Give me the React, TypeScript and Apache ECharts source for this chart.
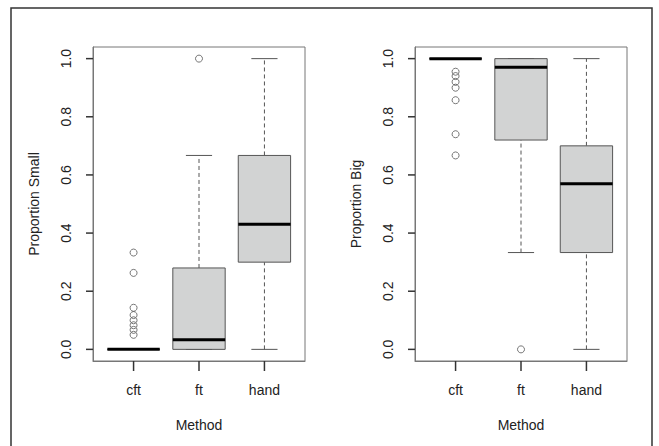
import React, { useEffect, useRef } from "react";
import * as echarts from "echarts";

const categories = ["cft", "ft", "hand"];
const yTicks = [0, 0.2, 0.4, 0.6, 0.8, 1.0];
const xTicks = [1, 2, 3];

// Proportion Small panel (per category: cft, ft, hand)
const smallLowerWhisker = [0, 0, 0];
const smallQ1 = [0, 0, 0.3];
const smallMedian = [0, 0.033, 0.43];
const smallQ3 = [0, 0.28, 0.667];
const smallUpperWhisker = [0, 0.667, 1.0];
const smallOutliersCft = [0.333, 0.263, 0.143, 0.118, 0.1, 0.083, 0.067, 0.05];
const smallOutliersFt = [1.0];
const smallOutliersHand: number[] = [];

// Proportion Big panel
const bigLowerWhisker = [1.0, 0.333, 0];
const bigQ1 = [1.0, 0.72, 0.333];
const bigMedian = [1.0, 0.97, 0.57];
const bigQ3 = [1.0, 1.0, 0.7];
const bigUpperWhisker = [1.0, 1.0, 1.0];
const bigOutliersCft = [0.955, 0.94, 0.92, 0.9, 0.857, 0.74, 0.667];
const bigOutliersFt = [0];
const bigOutliersHand: number[] = [];

const X_MIN = 0.38;
const X_MAX = 3.62;
const Y_MIN = -0.04;
const Y_MAX = 1.04;

const TEXT = "#222";
const BOXLINE = "#555";
const FRAME = "#777";
const TICK = "#333";
const FONT = "Liberation Sans, Arial, sans-serif";

function boxRows(lo: number[], q1: number[], med: number[], q3: number[], hi: number[]) {
  return categories.map((_, i) => [i + 1, lo[i], q1[i], med[i], q3[i], hi[i]]);
}

function outlierRows(lists: number[][]) {
  const rows: number[][] = [];
  lists.forEach((list, i) => list.forEach((v) => rows.push([i + 1, v])));
  return rows;
}

const renderBox = (params: any, api: any) => {
  const x = api.value(0);
  const loP = api.coord([x, api.value(1)]);
  const q1P = api.coord([x, api.value(2)]);
  const medP = api.coord([x, api.value(3)]);
  const q3P = api.coord([x, api.value(4)]);
  const hiP = api.coord([x, api.value(5)]);
  const cx = loP[0];
  const half = api.size([0.8, 0])[0] / 2;
  const capHalf = half / 2;
  const dashed = { stroke: BOXLINE, lineWidth: 1, lineDash: [4, 3], fill: null };
  const solid = { stroke: BOXLINE, lineWidth: 1, fill: null };
  return {
    type: "group",
    children: [
      { type: "line", shape: { x1: cx, y1: loP[1], x2: cx, y2: q1P[1] }, style: dashed },
      { type: "line", shape: { x1: cx, y1: q3P[1], x2: cx, y2: hiP[1] }, style: dashed },
      { type: "line", shape: { x1: cx - capHalf, y1: loP[1], x2: cx + capHalf, y2: loP[1] }, style: solid },
      { type: "line", shape: { x1: cx - capHalf, y1: hiP[1], x2: cx + capHalf, y2: hiP[1] }, style: solid },
      {
        type: "rect",
        shape: { x: cx - half, y: q3P[1], width: half * 2, height: q1P[1] - q3P[1] },
        style: { fill: "#d2d3d3", stroke: BOXLINE, lineWidth: 1 },
      },
      {
        type: "line",
        shape: { x1: cx - half, y1: medP[1], x2: cx + half, y2: medP[1] },
        style: { stroke: "#000", lineWidth: 3, fill: null },
      },
    ],
  };
};

// tick marks drawn through the axes' scales (outside the plot frame)
const renderXTick = (params: any, api: any) => {
  const p = api.coord([api.value(0), Y_MIN]);
  return {
    type: "line",
    shape: { x1: p[0], y1: p[1], x2: p[0], y2: p[1] + 10 },
    style: { stroke: TICK, lineWidth: 1.5 },
  };
};
const renderYTick = (params: any, api: any) => {
  const p = api.coord([X_MIN, api.value(1)]);
  return {
    type: "line",
    shape: { x1: p[0] - 7, y1: p[1], x2: p[0], y2: p[1] },
    style: { stroke: TICK, lineWidth: 1.5 },
  };
};

function makeX(gridIndex: number) {
  return {
    type: "value",
    gridIndex,
    min: X_MIN,
    max: X_MAX,
    axisLine: { show: true, onZero: false, lineStyle: { color: FRAME, width: 1 } },
    splitLine: { show: false },
    axisTick: { show: false },
    axisLabel: {
      customValues: xTicks,
      formatter: (v: number) => categories[Math.round(v) - 1] ?? "",
      color: TEXT,
      fontSize: 14,
      fontFamily: FONT,
      margin: 22,
    },
    name: "Method",
    nameLocation: "middle",
    nameGap: 57,
    nameTextStyle: { color: TEXT, fontSize: 14, fontFamily: FONT },
  };
}

function makeY(gridIndex: number, name: string) {
  return {
    type: "value",
    gridIndex,
    min: Y_MIN,
    max: Y_MAX,
    axisLine: { show: true, onZero: false, lineStyle: { color: FRAME, width: 1 } },
    splitLine: { show: false },
    axisTick: { show: false },
    axisLabel: {
      customValues: yTicks,
      formatter: (v: number) => v.toFixed(1),
      rotate: 90,
      color: TEXT,
      fontSize: 14,
      fontFamily: FONT,
      margin: 20,
    },
    name,
    nameLocation: "middle",
    nameGap: 52,
    nameTextStyle: { color: TEXT, fontSize: 14, fontFamily: FONT },
  };
}

function tickSeries(gridIndex: number) {
  return [
    {
      type: "custom",
      xAxisIndex: gridIndex,
      yAxisIndex: gridIndex,
      renderItem: renderXTick,
      clip: false,
      silent: true,
      encode: { x: 0, y: 1 },
      data: xTicks.map((v) => [v, Y_MIN]),
      z: 10,
    },
    {
      type: "custom",
      xAxisIndex: gridIndex,
      yAxisIndex: gridIndex,
      renderItem: renderYTick,
      clip: false,
      silent: true,
      encode: { x: 0, y: 1 },
      data: yTicks.map((v) => [X_MIN, v]),
      z: 10,
    },
  ];
}

export default function App() {
  const ref = useRef<HTMLDivElement>(null);
  useEffect(() => {
    if (!ref.current) return;
    const chart = echarts.init(ref.current, null, { renderer: "svg" });
    const scatterStyle = {
      symbol: "circle",
      symbolSize: 7,
      itemStyle: { color: "rgba(0,0,0,0)", borderColor: BOXLINE, borderWidth: 1 },
      z: 5,
    };
    chart.setOption({
      animation: false,
      backgroundColor: "#fff",
      textStyle: { fontFamily: FONT },
      grid: [
        { left: 93, top: 47, width: 212, height: 314, show: true, borderColor: FRAME, borderWidth: 1, backgroundColor: "transparent" },
        { left: 415, top: 47, width: 212, height: 314, show: true, borderColor: FRAME, borderWidth: 1, backgroundColor: "transparent" },
      ],
      xAxis: [makeX(0), makeX(1)],
      yAxis: [makeY(0, "Proportion Small"), makeY(1, "Proportion Big")],
      graphic: [
        {
          type: "rect",
          shape: { x: 11, y: 8, width: 641, height: 470 },
          style: { fill: "transparent", stroke: "#333", lineWidth: 1.5 },
          silent: true,
          z: -1,
        },
      ],
      series: [
        ...tickSeries(0),
        ...tickSeries(1),
        {
          type: "custom",
          xAxisIndex: 0,
          yAxisIndex: 0,
          renderItem: renderBox,
          encode: { x: 0, y: [1, 2, 3, 4, 5] },
          data: boxRows(smallLowerWhisker, smallQ1, smallMedian, smallQ3, smallUpperWhisker),
          z: 2,
        },
        {
          type: "custom",
          xAxisIndex: 1,
          yAxisIndex: 1,
          renderItem: renderBox,
          encode: { x: 0, y: [1, 2, 3, 4, 5] },
          data: boxRows(bigLowerWhisker, bigQ1, bigMedian, bigQ3, bigUpperWhisker),
          z: 2,
        },
        {
          type: "scatter",
          xAxisIndex: 0,
          yAxisIndex: 0,
          data: outlierRows([smallOutliersCft, smallOutliersFt, smallOutliersHand]),
          ...scatterStyle,
        },
        {
          type: "scatter",
          xAxisIndex: 1,
          yAxisIndex: 1,
          data: outlierRows([bigOutliersCft, bigOutliersFt, bigOutliersHand]),
          ...scatterStyle,
        },
      ],
    });
    return () => chart.dispose();
  }, []);
  return (
    <div
      ref={ref}
      style={{ position: "fixed", left: 0, top: 0, width: 659, height: 446, background: "#fff" }}
    />
  );
}
